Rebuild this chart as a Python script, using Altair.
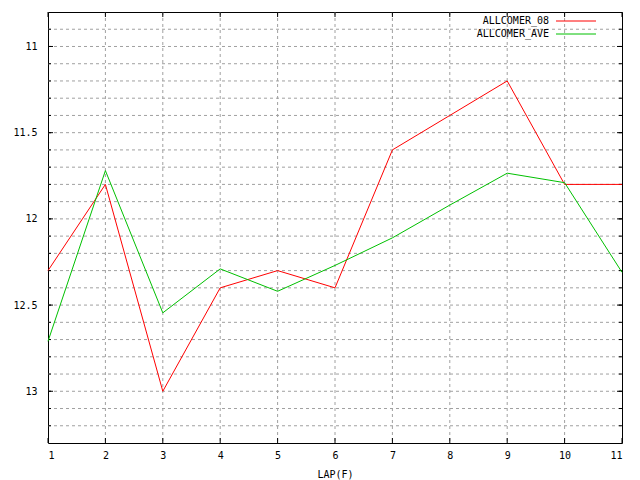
import altair as alt
import pandas as pd

laps = [1, 2, 3, 4, 5, 6, 7, 8, 9, 10, 11]
allcomer_08 = [12.30, 11.80, 13.00, 12.40, 12.30, 12.40, 11.60, 11.40, 11.20, 11.80, 11.80]
allcomer_ave = [12.71, 11.72, 12.545, 12.29, 12.42, 12.27, 12.11, 11.92, 11.735, 11.79, 12.31]
series_names = ["ALLCOMER_08", "ALLCOMER_AVE"]
series_colors = ["#ff0000", "#00c000"]
y_major = [11, 11.5, 12, 12.5, 13]
y_minor = [10.9, 11.0, 11.1, 11.2, 11.3, 11.4, 11.5, 11.6, 11.7, 11.8, 11.9, 12.0,
           12.1, 12.2, 12.3, 12.4, 12.5, 12.6, 12.7, 12.8, 12.9, 13.0, 13.1, 13.2]
x_grid = [2, 3, 4, 5, 6, 7, 8, 9, 10]

W, H = 574, 431
FONT = "DejaVu Sans Mono"

df = pd.DataFrame({
    "lap": laps * 2,
    "value": allcomer_08 + allcomer_ave,
    "series": [series_names[0]] * len(laps) + [series_names[1]] * len(laps),
})

xs = alt.Scale(domain=[1, 11], nice=False, zero=False)
ys = alt.Scale(domain=[10.8, 13.3], reverse=True, nice=False, zero=False)

x_axis = alt.Axis(values=laps, format="d", grid=False, ticks=False, domain=False,
                  labelFont=FONT, labelFontSize=10, labelColor="black",
                  labelPadding=7, titleFont=FONT, titleFontSize=10,
                  titleFontWeight="normal", titleColor="black", titlePadding=9)
y_axis = alt.Axis(values=y_major, labelExpr="datum.value + ''", grid=False,
                  ticks=False, domain=False, labelFont=FONT, labelFontSize=10,
                  labelColor="black", labelPadding=11)


def X(field):
    return alt.X(field, scale=xs, axis=x_axis, title="LAP(F)")


def Y(field):
    return alt.Y(field, scale=ys, axis=y_axis, title=None)


ygrid_df = pd.DataFrame({"v": y_minor})
xgrid_df = pd.DataFrame({"v": x_grid})
ymaj_df = pd.DataFrame({"v": y_major})
xtick_df = pd.DataFrame({"v": laps})

grid_style = dict(color="#a0a0a0", strokeDash=[3, 3], strokeWidth=1)

ygrid = alt.Chart(ygrid_df).mark_rule(**grid_style).encode(
    y=Y("v:Q"), x=alt.value(0), x2=alt.value(W))
xgrid = alt.Chart(xgrid_df).mark_rule(**grid_style).encode(
    x=X("v:Q"), y=alt.value(0), y2=alt.value(H))

tick_style = dict(color="black", strokeWidth=1)
ytick_minor_l = alt.Chart(ygrid_df).mark_rule(**tick_style).encode(
    y=Y("v:Q"), x=alt.value(0), x2=alt.value(3))
ytick_minor_r = alt.Chart(ygrid_df).mark_rule(**tick_style).encode(
    y=Y("v:Q"), x=alt.value(W - 3), x2=alt.value(W))
ytick_major_l = alt.Chart(ymaj_df).mark_rule(**tick_style).encode(
    y=Y("v:Q"), x=alt.value(0), x2=alt.value(5))
ytick_major_r = alt.Chart(ymaj_df).mark_rule(**tick_style).encode(
    y=Y("v:Q"), x=alt.value(W - 5), x2=alt.value(W))
xtick_b = alt.Chart(xtick_df).mark_rule(**tick_style).encode(
    x=X("v:Q"), y=alt.value(H - 5), y2=alt.value(H))
xtick_t = alt.Chart(xtick_df).mark_rule(**tick_style).encode(
    x=X("v:Q"), y=alt.value(0), y2=alt.value(5))

lines = alt.Chart(df).mark_line(strokeWidth=1, interpolate="linear").encode(
    x=X("lap:Q"),
    y=Y("value:Q"),
    color=alt.Color("series:N", scale=alt.Scale(domain=series_names, range=series_colors),
                    legend=None),
    detail="series:N",
)

legend_layers = []
for i, (name, col) in enumerate(zip(series_names, series_colors)):
    ldf = pd.DataFrame({"name": [name]})
    ypos = 9 + 13 * i
    legend_layers.append(
        alt.Chart(ldf).mark_text(align="right", baseline="middle", font=FONT,
                                 fontSize=10, color="black").encode(
            text="name:N", x=alt.value(501), y=alt.value(ypos)))
    legend_layers.append(
        alt.Chart(ldf).mark_rule(color=col, strokeWidth=1).encode(
            x=alt.value(508), x2=alt.value(548), y=alt.value(ypos)))

chart = alt.layer(
    ygrid, xgrid, ytick_minor_l, ytick_minor_r, ytick_major_l, ytick_major_r,
    xtick_b, xtick_t, lines, *legend_layers
).properties(
    width=W, height=H,
    autosize=alt.AutoSizeParams(type="none"),
    padding={"left": 40, "top": 4, "right": 10, "bottom": 40},
    background="white",
).configure_view(stroke="black", strokeWidth=1)

chart.save("out.html", embed_options={"renderer": "svg", "actions": False})
